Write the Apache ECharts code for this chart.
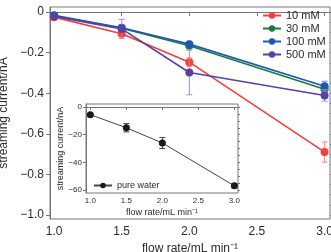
<!DOCTYPE html>
<html><head><meta charset="utf-8">
<script src="https://cdn.jsdelivr.net/npm/echarts@6/dist/echarts.min.js"></script>
<style>html,body{margin:0;padding:0;background:#fff}#c{width:331px;height:252px}</style>
</head><body><div id="c"></div>
<script>
var flowRates = [1.0, 1.5, 2.0, 3.0];
var seriesNames = ['10 mM', '30 mM', '100 mM', '500 mM'];
var mM10 = [-0.025, -0.107, -0.247, -0.690];
var err10 = [0.005, 0.012, 0.021, 0.050];
var mM30 = [-0.018, -0.080, -0.166, -0.380];
var err30 = [0.005, 0.008, 0.010, 0.015];
var mM100 = [-0.016, -0.077, -0.158, -0.366];
var err100 = [0.005, 0.010, 0.014, 0.025];
var mM500 = [-0.022, -0.083, -0.298, -0.411];
var err500 = [0.005, 0.047, 0.110, 0.028];
var pureWater = [-5.5, -15.0, -26.0, -57.0];
var errPure = [1.0, 3.0, 4.0, 1.5];
var mainXTicks = [1.0, 1.5, 2.0, 2.5, 3.0];
var mainYTicks = [0, -0.2, -0.4, -0.6, -0.8, -1.0];
var insetXTicks = [1.0, 1.5, 2.0, 2.5, 3.0];
var insetYTicks = [0, -20, -40, -60];

var colors = ['#f2403d', '#1d7a3e', '#1b58b3', '#5a3fa6'];
var errColors = ['#f48a88', '#6fae84', '#6f95d4', '#9b8bd0'];
var values = [mM10, mM30, mM100, mM500];
var errs = [err10, err30, err100, err500];

function minorList(lo, hi, step) {
  var out = [];
  var n = Math.round((hi - lo) / step);
  for (var i = 0; i <= n; i++) out.push(+(lo + i * step).toFixed(4));
  return out;
}
var FONT = 'Liberation Sans';
var txt = '#2a2a2a';

function errSeries(xi, yi, vals, es, color, z) {
  return {
    type: 'custom', xAxisIndex: xi, yAxisIndex: yi, z: z, silent: true,
    data: flowRates.map(function (x, i) { return [x, vals[i] - es[i], vals[i] + es[i]]; }),
    renderItem: function (params, api) {
      var lo = api.coord([api.value(0), api.value(1)]);
      var hi = api.coord([api.value(0), api.value(2)]);
      var w = 3;
      var st = { stroke: color, lineWidth: 1 };
      return { type: 'group', children: [
        { type: 'line', shape: { x1: lo[0], y1: lo[1], x2: hi[0], y2: hi[1] }, style: st },
        { type: 'line', shape: { x1: lo[0] - w, y1: lo[1], x2: lo[0] + w, y2: lo[1] }, style: st },
        { type: 'line', shape: { x1: hi[0] - w, y1: hi[1], x2: hi[0] + w, y2: hi[1] }, style: st }
      ]};
    }
  };
}

var series = [];
for (var k = 0; k < 4; k++) {
  series.push(errSeries(0, 0, values[k], errs[k], errColors[k], 2 + k * 2));
  series.push({
    name: seriesNames[k], type: 'line', xAxisIndex: 0, yAxisIndex: 0, z: 3 + k * 2,
    data: flowRates.map(function (x, i) { return [x, values[k][i]]; }),
    symbol: 'circle', symbolSize: 8, lineStyle: { color: colors[k], width: 1.6 },
    itemStyle: { color: colors[k] }, animation: false
  });
}
series.push(errSeries(1, 2, pureWater, errPure, '#444', 20));
series.push({
  name: 'pure water', type: 'line', xAxisIndex: 1, yAxisIndex: 2, z: 21,
  data: flowRates.map(function (x, i) { return [x, pureWater[i]]; }),
  symbol: 'circle', symbolSize: 7, lineStyle: { color: '#444', width: 1 },
  itemStyle: { color: '#1a1a1a' }, animation: false
});

var axLine = { show: true, lineStyle: { color: '#777', width: 1 } };

var option = {
  animation: false,
  textStyle: { fontFamily: FONT },
  grid: [
    { left: 50, right: 1, top: 7, bottom: 33, show: true, borderColor: '#777', borderWidth: 1, backgroundColor: '#fff', outerBoundsMode: 'none', containLabel: false },
    { left: 86, top: 104, width: 152, height: 89, show: true, borderColor: '#777', borderWidth: 1, backgroundColor: '#fff', z: 10, outerBoundsMode: 'none', containLabel: false }
  ],
  xAxis: [
    { type: 'value', gridIndex: 0, min: 0.97, max: 3.04,
      name: 'flow rate/mL min⁻¹', nameLocation: 'middle', nameGap: 22,
      nameTextStyle: { fontSize: 12, color: txt, fontFamily: FONT },
      axisLine: axLine, splitLine: { show: false },
      axisTick: { show: true, inside: false, length: 4, customValues: mainXTicks, lineStyle: { color: '#777' } },
      axisLabel: { fontSize: 12, color: txt, margin: 7, customValues: mainXTicks, hideOverlap: false,
        formatter: function (v) { return v.toFixed(1); } } },
    { type: 'value', gridIndex: 1, min: 0.94, max: 3.05, z: 10,
      name: 'flow rate/mL min⁻¹', nameLocation: 'middle', nameGap: 15,
      nameTextStyle: { fontSize: 9, color: txt, fontFamily: FONT },
      axisLine: axLine, splitLine: { show: false },
      axisTick: { show: true, length: 3, customValues: insetXTicks, lineStyle: { color: '#777' } },
      axisLabel: { fontSize: 8, color: txt, margin: 4, customValues: insetXTicks,
        formatter: function (v) { return v.toFixed(1); } } }
  ],
  yAxis: [
    { type: 'value', gridIndex: 0, min: -1.02, max: 0.025,
      name: 'streaming current/nA', nameLocation: 'middle', nameGap: 33,
      nameTextStyle: { fontSize: 12, color: txt, fontFamily: FONT },
      axisLine: axLine, splitLine: { show: false },
      axisTick: { show: true, length: 4, customValues: mainYTicks, lineStyle: { color: '#777' } },
      axisLabel: { fontSize: 12, color: txt, margin: 6, customValues: mainYTicks,
        formatter: function (v) { return v === 0 ? '0' : v.toFixed(1).replace('-', '−'); } } },
    { type: 'value', gridIndex: 0, min: -1.02, max: 0.025,
      axisLine: { show: false }, splitLine: { show: false }, axisLabel: { show: false },
      axisTick: { show: true, length: 2, customValues: minorList(-1.0, 0, 0.05), lineStyle: { color: '#777' } } },
    { type: 'value', gridIndex: 1, min: -62.2, max: 2.2, z: 10,
      name: 'streaming current/nA', nameLocation: 'middle', nameGap: 21,
      nameTextStyle: { fontSize: 9, color: txt, fontFamily: FONT },
      axisLine: axLine, splitLine: { show: false },
      axisTick: { show: true, length: 3, customValues: insetYTicks, lineStyle: { color: '#777' } },
      axisLabel: { fontSize: 8, color: txt, margin: 4, customValues: insetYTicks,
        formatter: function (v) { return v === 0 ? '0' : String(v).replace('-', '−'); } } },
    { type: 'value', gridIndex: 1, min: -62.2, max: 2.2, z: 10,
      axisLine: { show: false }, splitLine: { show: false }, axisLabel: { show: false },
      axisTick: { show: true, length: 2, customValues: minorList(-60, 0, 5), lineStyle: { color: '#777' } } }
  ],
  legend: [
    { data: seriesNames, orient: 'vertical', left: 262, top: 10, padding: 0, itemGap: 2,
      itemWidth: 18, itemHeight: 8, textStyle: { fontSize: 11, color: txt, fontFamily: FONT } },
    { data: ['pure water'], orient: 'vertical', left: 93, top: 181, padding: 0, z: 30,
      itemWidth: 18, itemHeight: 7, textStyle: { fontSize: 9, color: txt, fontFamily: FONT } }
  ],
  series: series
};
var chart = echarts.init(document.getElementById('c'), null, { renderer: 'canvas' });
chart.setOption(option);
</script>
</body></html>
